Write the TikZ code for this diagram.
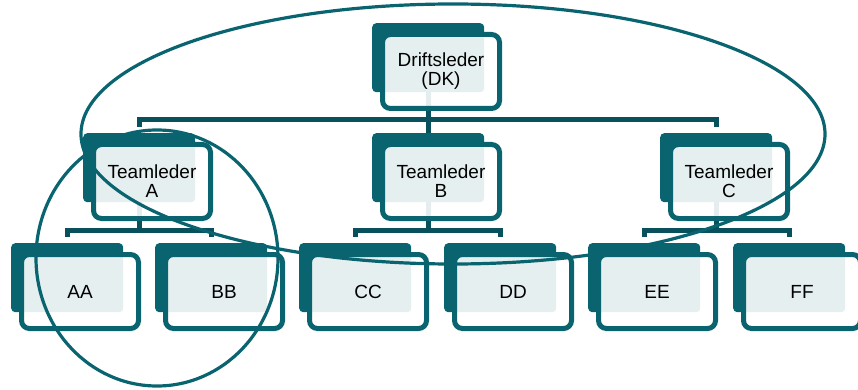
\documentclass[tikz,border=0pt]{standalone}
\usepackage{fontspec}
\setmainfont{Liberation Sans}
\usepackage{tikz}
\usetikzlibrary{backgrounds}
\definecolor{tealbox}{RGB}{10,100,112}
\definecolor{tealline}{RGB}{8,80,92}
\tikzstyle{back}=[fill=tealbox,rounded corners=4pt,minimum width=112pt,minimum height=69pt,inner sep=0pt,anchor=north west]
\tikzstyle{front}=[draw=tealbox,line width=5pt,fill=white,fill opacity=0.9,text opacity=1,rounded corners=8pt,minimum width=117pt,minimum height=74pt,inner sep=0pt,align=center,text=black,font=\fontsize{19}{19}\selectfont]
\tikzstyle{conn}=[draw=tealline,line width=5pt,line join=miter]
\tikzstyle{ring}=[draw=tealbox,line width=3.2pt]

\begin{document}
\begin{tikzpicture}[x=1pt,y=-1pt]
\useasboundingbox (0,0) rectangle (858,390);
% top
\node[back] (dk-b) at (372,23) {};
\node[front] (dk) at (441,71.5) {Driftsleder\\(DK)};
% team leaders
\node[back] (tA-b) at (83,133) {};
\node[front] (tA) at (152,181.5) {Teamleder\\A};
\node[back] (tB-b) at (372,133) {};
\node[front] (tB) at (441,181.5) {Teamleder\\B};
\node[back] (tC-b) at (660,133) {};
\node[front] (tC) at (729,181.5) {Teamleder\\C};
% bottom row
\node[back] (aa-b) at (11,243) {};
\node[front] (aa) at (80,291.5) {AA};
\node[back] (bb-b) at (155,243) {};
\node[front] (bb) at (224,291.5) {BB};
\node[back] (cc-b) at (299,243) {};
\node[front] (cc) at (368,291.5) {CC};
\node[back] (dd-b) at (444,243) {};
\node[front] (dd) at (513,291.5) {DD};
\node[back] (ee-b) at (588,243) {};
\node[front] (ee) at (657,291.5) {EE};
\node[back] (ff-b) at (733,243) {};
\node[front] (ff) at (802,291.5) {FF};
% connectors
\begin{scope}[on background layer]
\draw[conn] (dk-b.south) -- (tB-b.north);
\draw[conn] ([yshift=6pt]tA-b.north) -- ([yshift=13pt]tA-b.north) -- ([yshift=13pt]tC-b.north) -- ([yshift=6pt]tC-b.north);
\draw[conn] (tA-b.south) -- ([yshift=13pt]aa-b.north -| tA-b.south);
\draw[conn] ([yshift=6pt]aa-b.north) -- ([yshift=13pt]aa-b.north) -- ([yshift=13pt]bb-b.north) -- ([yshift=6pt]bb-b.north);
\draw[conn] (tB-b.south) -- ([yshift=13pt]cc-b.north -| tB-b.south);
\draw[conn] ([yshift=6pt]cc-b.north) -- ([yshift=13pt]cc-b.north) -- ([yshift=13pt]dd-b.north) -- ([yshift=6pt]dd-b.north);
\draw[conn] (tC-b.south) -- ([yshift=13pt]ee-b.north -| tC-b.south);
\draw[conn] ([yshift=6pt]ee-b.north) -- ([yshift=13pt]ee-b.north) -- ([yshift=13pt]ff-b.north) -- ([yshift=6pt]ff-b.north);
\end{scope}
% groupings
\draw[ring] (453,134) ellipse [x radius=372pt,y radius=130pt];
\draw[ring] (157,258) ellipse [x radius=121pt,y radius=128pt];
\end{tikzpicture}
\end{document}
